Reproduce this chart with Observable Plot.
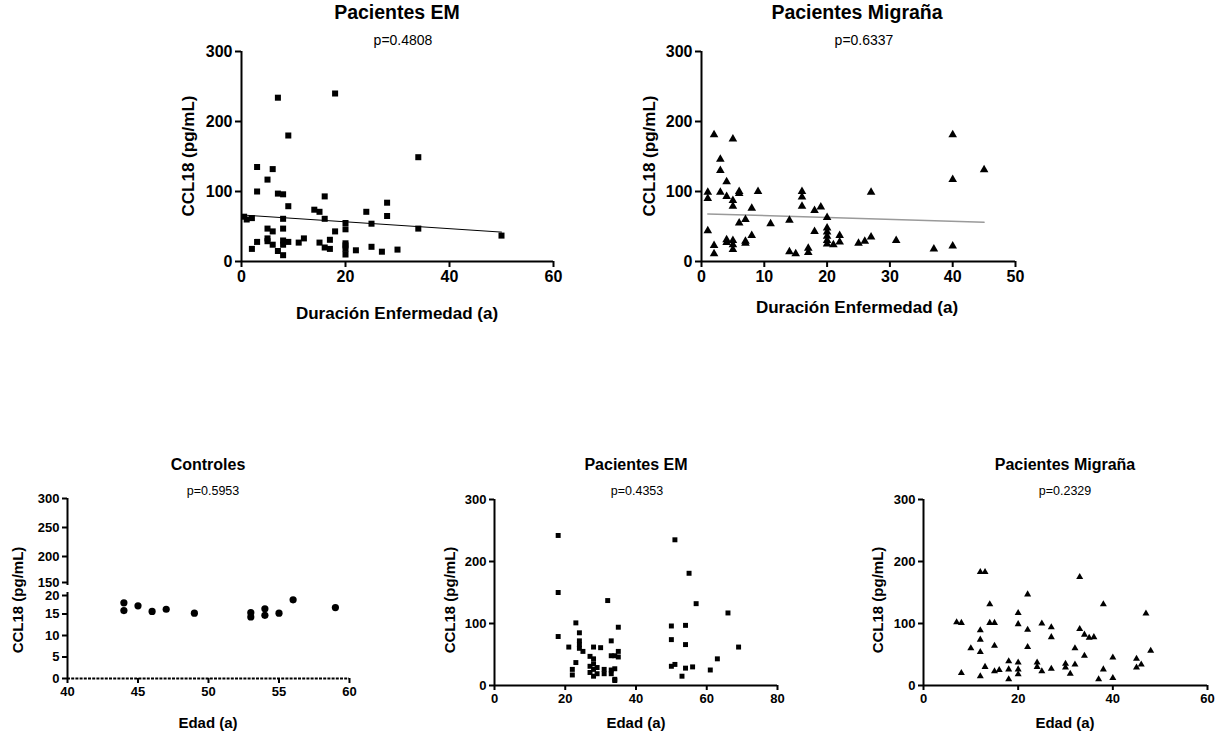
<!DOCTYPE html>
<html>
<head>
<meta charset="utf-8">
<script src="https://cdn.jsdelivr.net/npm/d3@7"></script>
<script src="https://cdn.jsdelivr.net/npm/@observablehq/plot@0.6"></script>
<style>
  body { margin: 0; background: white; }
  #root { position: relative; width: 1222px; height: 735px; overflow: hidden; font-family: "Liberation Sans", Arial, sans-serif; color: black; }
  #root svg text { font-weight: bold; font-family: "Liberation Sans", Arial, sans-serif; }
  .t { position: absolute; transform: translate(-50%, -50%); white-space: nowrap; line-height: 1; }
  .b { font-weight: bold; }
  .rot { transform: translate(-50%, -50%) rotate(-90deg); }
  .p { position: absolute; }
</style>
</head>
<body>
<div id="root"></div>
<script>
// ---------- Data ----------
// Pacientes EM: duración enfermedad (años) vs CCL18 (pg/mL)
const emDuration = [
  [0.5,64],[1,60],[2,62],[2,18],[3,135],[3,100],[3,28],[5,117],[5,47],[5,33],[5,29],
  [6,132],[6,43],[6,24],[7,234],[7,97],[7,15],[8,96],[8,61],[8,47],[8,30],[8,24],[8,9],
  [9,180],[9,79],[9,28],[11,27],[12,33],[14,74],[15,71],[15,27],[16,93],[16,61],[16,20],
  [17,31],[17,18],[18,240],[18,43],[20,55],[20,46],[20,26],[20,23],[20,18],[20,10],
  [22,16],[24,71],[25,54],[25,21],[27,14],[28,84],[28,65],[30,17],[34,149],[34,47],[50,37]
];
const emDurationFit = [[1,66],[50,42]];

// Pacientes Migraña: duración enfermedad (años) vs CCL18
const migDuration = [
  [1,99],[1,90],[1,44],[2,181],[2,23],[2,11],[3,146],[3,130],[3,99],[4,114],[4,93],[4,31],[4,27],
  [5,175],[5,87],[5,79],[5,30],[5,24],[5,17],[6,100],[6,97],[6,55],[7,60],[7,29],[7,26],
  [8,76],[8,37],[9,100],[11,54],[14,59],[14,14],[15,11],[16,100],[16,92],[16,79],[17,19],[17,13],
  [18,73],[18,43],[19,78],[20,63],[20,48],[20,42],[20,36],[20,30],[20,25],[21,24],[22,37],[22,28],
  [25,26],[26,29],[27,99],[27,35],[31,30],[37,18],[40,181],[40,117],[40,22],[45,131]
];
const migDurationFit = [[1,68],[45,56]];

// Controles: edad vs CCL18
const ctrlAge = [
  [44,17.6],[44,15.8],[45,16.9],[46,15.6],[47,16.1],[49,15.2],[53,15.3],[53,14.3],
  [54,16.2],[54,14.7],[55,15.2],[56,18.3],[59,16.5]
];

// Pacientes EM: edad vs CCL18
const emAge = [
  [18,242],[18,150],[18,79],[21,62],[22,26],[22,17],[23,101],[23,37],[24,85],[24,72],[24,66],[24,60],
  [25,55],[27,47],[27,31],[27,21],[28,62],[28,43],[28,35],[28,26],[28,15],[29,29],[29,19],[30,61],
  [31,26],[31,19],[32,137],[33,72],[33,48],[33,25],[33,19],[34,48],[34,27],[34,10],[34,8],
  [35,94],[35,55],[35,46],[50,96],[50,74],[50,31],[51,235],[51,34],[53,15],[54,97],[54,66],[54,28],
  [55,181],[56,30],[57,132],[61,25],[63,43],[66,117],[69,62]
];

// Pacientes Migraña: edad vs CCL18
const migAge = [
  [7,102],[8,101],[8,20],[10,60],[12,183],[13,183],[12,89],[12,74],[12,54],[12,15],[13,30],
  [14,131],[14,101],[15,101],[15,64],[15,23],[16,25],[18,39],[18,26],[18,10],[20,117],[20,99],
  [20,37],[20,26],[20,18],[22,147],[22,90],[22,62],[24,37],[24,30],[25,100],[25,23],[27,94],[27,78],
  [27,27],[30,35],[30,29],[31,19],[32,60],[32,34],[33,175],[33,91],[34,82],[34,48],[35,77],[36,78],
  [37,10],[38,131],[38,26],[40,45],[40,12],[45,43],[45,29],[46,34],[47,116],[48,56]
];

// Tick labels
const yTicksMain = [0, 100, 200, 300];
const xTicksEmDur = [0, 20, 40, 60];
const xTicksMigDur = [0, 10, 20, 30, 40, 50];
const xTicksCtrl = [40, 45, 50, 55, 60];
const yTicksCtrlLow = [0, 5, 10, 15];
const yTicksCtrlLowTop = [20];
const yTicksCtrlHigh = [200, 250, 300];
const yTicksCtrlHighBottom = [150];
const xTicksEmAge = [0, 20, 40, 60, 80];
const xTicksMigAge = [0, 20, 40, 60];

// Texts
const titles = {
  emDur: "Pacientes EM", migDur: "Pacientes Migraña",
  ctrl: "Controles", emAge: "Pacientes EM", migAge: "Pacientes Migraña"
};
const pvals = {
  emDur: "p=0.4808", migDur: "p=0.6337", ctrl: "p=0.5953", emAge: "p=0.4353", migAge: "p=0.2329"
};
const yTitle = "CCL18 (pg/mL)";
const xTitleDur = "Duración Enfermedad (a)";
const xTitleAge = "Edad (a)";

// ---------- Rendering ----------
const root = document.getElementById("root");
const FONT = "'Liberation Sans', Arial, sans-serif";

function place(node, left, top) {
  node.classList.add("p");
  node.style.left = left + "px";
  node.style.top = top + "px";
  root.appendChild(node);
}
function label(text, cx, cy, size, bold, rotate) {
  const d = document.createElement("div");
  d.className = "t" + (bold ? " b" : "") + (rotate ? " rot" : "");
  d.textContent = text;
  d.style.left = cx + "px";
  d.style.top = cy + "px";
  d.style.fontSize = size + "px";
  root.appendChild(d);
}

const fx = d => d[0], fy = d => d[1];
const axisOpts = (ticks, len, w, fs, extra = {}) => ({ticks, tickSize: len, strokeWidth: w, label: null, tickPadding: 3,
  fontSize: fs, fontWeight: "bold", fontFamily: FONT, ...extra});

function scatter({data, fit, fitColor, symbol, r, xDomain, xTicks, yDomain, yTicks,
                  width, height, mt, mr, mb, ml, tickFont, axisW, tickLen}) {
  const marks = [
    Plot.axisY(axisOpts(yTicks, tickLen, axisW, tickFont)),
    Plot.axisX(axisOpts(xTicks, tickLen, axisW, tickFont)),
    Plot.ruleX([xDomain[0]], {strokeWidth: axisW, stroke: "black"}),
    Plot.ruleY([yDomain[0]], {strokeWidth: axisW, stroke: "black"})
  ];
  if (fit) marks.push(Plot.line(fit, {x: fx, y: fy, stroke: fitColor, strokeWidth: fitColor === "black" ? 1 : 1.5}));
  marks.push(Plot.dot(data, {x: fx, y: fy, symbol, r, fill: "black", stroke: "none"}));
  return Plot.plot({
    width, height, marginTop: mt, marginRight: mr, marginBottom: mb, marginLeft: ml,
    x: {domain: xDomain, label: null},
    y: {domain: yDomain, label: null},
    style: {fontFamily: FONT, fontSize: tickFont + "px", fontWeight: "bold", background: "none", color: "black", overflow: "visible"},
    marks
  });
}

// Panel A: Pacientes EM (duración)
place(scatter({data: emDuration, fit: emDurationFit, fitColor: "black", symbol: "square", r: 3.4,
  xDomain: [0, 60], xTicks: xTicksEmDur, yDomain: [0, 300], yTicks: yTicksMain,
  width: 403, height: 261, mt: 11, mr: 20, mb: 40, ml: 71, tickFont: 16, axisW: 2, tickLen: 6}), 170, 40);
label(titles.emDur, 397, 13, 19.5, true);
label(pvals.emDur, 403, 40, 14, false);
label(xTitleDur, 397, 313, 17, true);
label(yTitle, 188, 156, 17, true, true);

// Panel B: Pacientes Migraña (duración)
place(scatter({data: migDuration, fit: migDurationFit, fitColor: "#9a9a9a", symbol: "triangle", r: 3.2,
  xDomain: [0, 50], xTicks: xTicksMigDur, yDomain: [0, 300], yTicks: yTicksMain,
  width: 405, height: 261, mt: 11, mr: 20, mb: 40, ml: 71, tickFont: 16, axisW: 2, tickLen: 6}), 630, 40);
label(titles.migDur, 857, 13, 19.5, true);
label(pvals.migDur, 864, 40, 14, false);
label(xTitleDur, 857, 307, 17, true);
label(yTitle, 649, 156, 17, true, true);

// Panel C: Controles (broken y axis: two segments)
const ctrlHigh = Plot.plot({
  width: 352, height: 95, marginTop: 6, marginRight: 15, marginBottom: 2, marginLeft: 55,
  x: {domain: [40, 60], label: null, axis: null},
  y: {domain: [150, 300], label: null},
  style: {fontFamily: FONT, fontSize: "13px", fontWeight: "bold", background: "none", color: "black", overflow: "visible"},
  marks: [
    Plot.axisY(axisOpts(yTicksCtrlHigh, 5, 2, 13)),
    Plot.axisY(axisOpts(yTicksCtrlHighBottom, 5, 2, 13, {dy: -3})),
    Plot.ruleX([40], {strokeWidth: 2, stroke: "black"})
  ]
});
place(ctrlHigh, 12, 492);
const ctrlLow = Plot.plot({
  width: 352, height: 132, marginTop: 6, marginRight: 15, marginBottom: 40, marginLeft: 55,
  x: {domain: [40, 60], label: null},
  y: {domain: [0, 20], label: null},
  style: {fontFamily: FONT, fontSize: "13px", fontWeight: "bold", background: "none", color: "black", overflow: "visible"},
  marks: [
    Plot.axisY(axisOpts(yTicksCtrlLow, 5, 2, 13)),
    Plot.axisY(axisOpts(yTicksCtrlLowTop, 5, 2, 13, {dy: 3})),
    Plot.axisX(axisOpts(xTicksCtrl, 5, 2, 13)),
    Plot.ruleX([40], {strokeWidth: 2, stroke: "black"}),
    Plot.ruleY([0], {strokeWidth: 2, stroke: "black", strokeDasharray: "3,1.2"}),
    Plot.dot(ctrlAge, {x: fx, y: fy, r: 3.6, fill: "black", stroke: "none"})
  ]
});
place(ctrlLow, 12, 586);
label(titles.ctrl, 208, 465, 16, true);
label(pvals.ctrl, 213, 491, 12.5, false);
label(xTitleAge, 208, 722, 15, true);
label(yTitle, 17, 600, 15, true, true);

// Panel D: Pacientes EM (edad)
place(scatter({data: emAge, symbol: "square", r: 2.8,
  xDomain: [0, 80], xTicks: xTicksEmAge, yDomain: [0, 300], yTicks: yTicksMain,
  width: 357, height: 236, mt: 10, mr: 20, mb: 40, ml: 54, tickFont: 13, axisW: 2, tickLen: 5}), 440, 489);
label(titles.emAge, 636, 465, 16, true);
label(pvals.emAge, 637, 491, 12.5, false);
label(xTitleAge, 636, 722, 15, true);
label(yTitle, 449, 600, 15, true, true);

// Panel E: Pacientes Migraña (edad)
place(scatter({data: migAge, symbol: "triangle", r: 2.6,
  xDomain: [0, 60], xTicks: xTicksMigAge, yDomain: [0, 300], yTicks: yTicksMain,
  width: 350, height: 236, mt: 10, mr: 12, mb: 40, ml: 54, tickFont: 13, axisW: 2, tickLen: 5}), 869, 489);
label(titles.migAge, 1065, 465, 16, true);
label(pvals.migAge, 1065, 491, 12.5, false);
label(xTitleAge, 1065, 722, 15, true);
label(yTitle, 877, 600, 15, true, true);
</script>
</body>
</html>
